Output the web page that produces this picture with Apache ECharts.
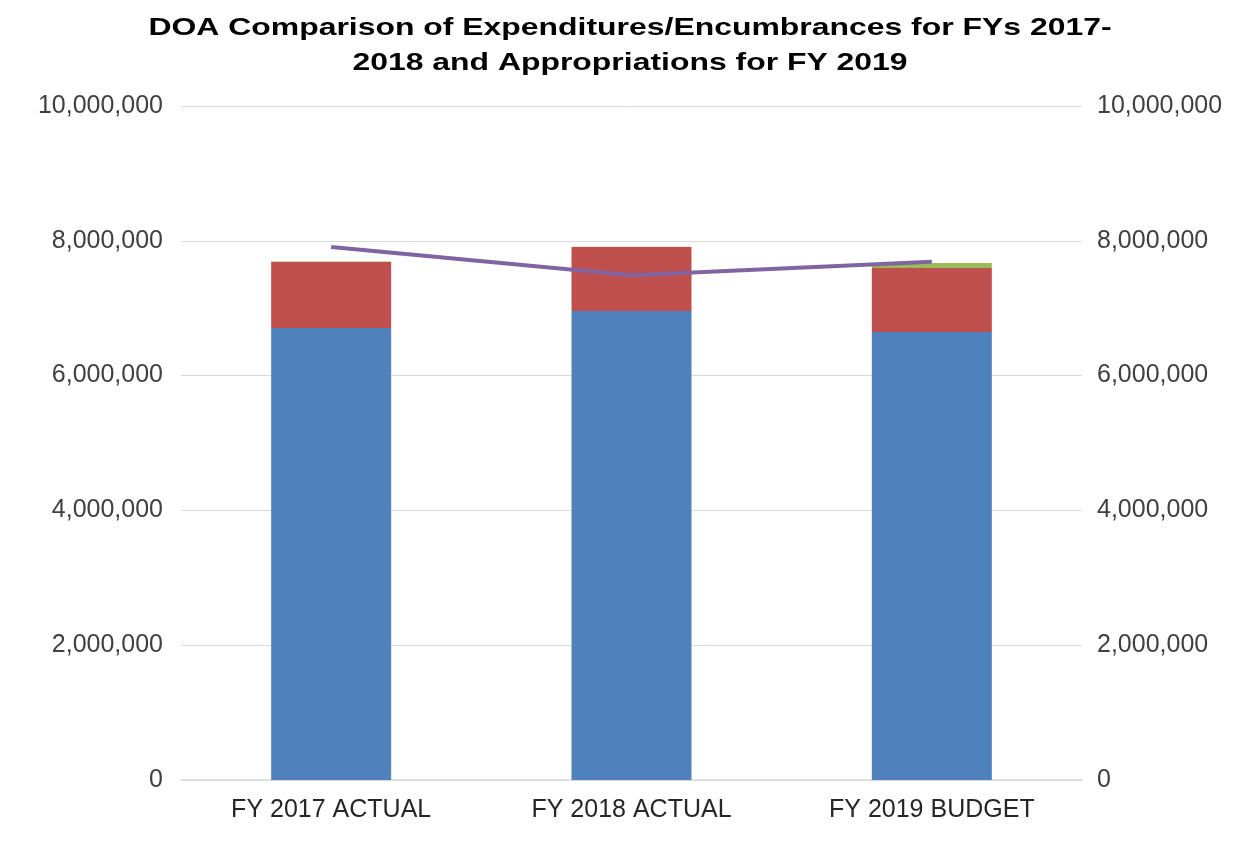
<!DOCTYPE html>
<html><head><meta charset="utf-8">
<script src="https://cdn.jsdelivr.net/npm/echarts@6/dist/echarts.min.js"></script>
<style>html,body{margin:0;padding:0;background:#fff}#c{width:1253px;height:848px}</style>
</head><body><div id="c"></div>
<script>
const categories = ['FY 2017 ACTUAL', 'FY 2018 ACTUAL', 'FY 2019 BUDGET'];
const seriesBlue = [6706000, 6958000, 6647000];
const seriesRed = [979000, 950000, 950000];
const seriesGreen = [8000, 5000, 74000];
const seriesLine = [7908000, 7490000, 7690000];
const titleLines = ['DOA Comparison of Expenditures/Encumbrances for FYs 2017-', '2018 and Appropriations for FY 2019'];

const chart = echarts.init(document.getElementById('c'));
const fmt = v => v.toLocaleString('en-US');
const axisLabel = {formatter: fmt, fontFamily: 'Liberation Sans, Arial', fontSize: 25, color: '#404040'};
const titleFont = 'bold 24px "Liberation Sans", Arial';
chart.setOption({
  animation: false,
  graphic: titleLines.map((t, i) => ({
    type: 'text', x: 630, y: 28 + i * 35, scaleX: 1.33,
    style: {text: t, font: titleFont, fill: '#000', align: 'center', verticalAlign: 'middle'}
  })),
  grid: {left: 181, right: 171, top: 106, bottom: 68},
  xAxis: {type: 'category', data: categories,
    axisLine: {lineStyle: {color: '#d9d9d9', width: 1.5}}, axisTick: {show: false},
    axisLabel: {fontFamily: 'Liberation Sans, Arial', fontSize: 25, color: '#262626', margin: 18}},
  yAxis: [
    {type: 'value', min: 0, max: 10000000, interval: 2000000, axisLabel: Object.assign({margin: 18}, axisLabel),
     splitLine: {lineStyle: {color: '#d9d9d9', width: 1}}, axisLine: {show: false}},
    {type: 'value', min: 0, max: 10000000, interval: 2000000, position: 'right', axisLabel: Object.assign({margin: 15}, axisLabel),
     splitLine: {show: false}, axisLine: {show: false}}
  ],
  series: [
    {type: 'bar', stack: 's', data: seriesBlue, barWidth: 120, itemStyle: {color: '#4f81bd'}},
    {type: 'bar', stack: 's', data: seriesRed, barWidth: 120, itemStyle: {color: '#c0504d'}},
    {type: 'bar', stack: 's', data: seriesGreen, barWidth: 120, itemStyle: {color: '#9bbb59'}},
    {type: 'line', yAxisIndex: 1, data: seriesLine, symbol: 'none', lineStyle: {color: '#8064a2', width: 4}}
  ]
});
</script></body></html>
